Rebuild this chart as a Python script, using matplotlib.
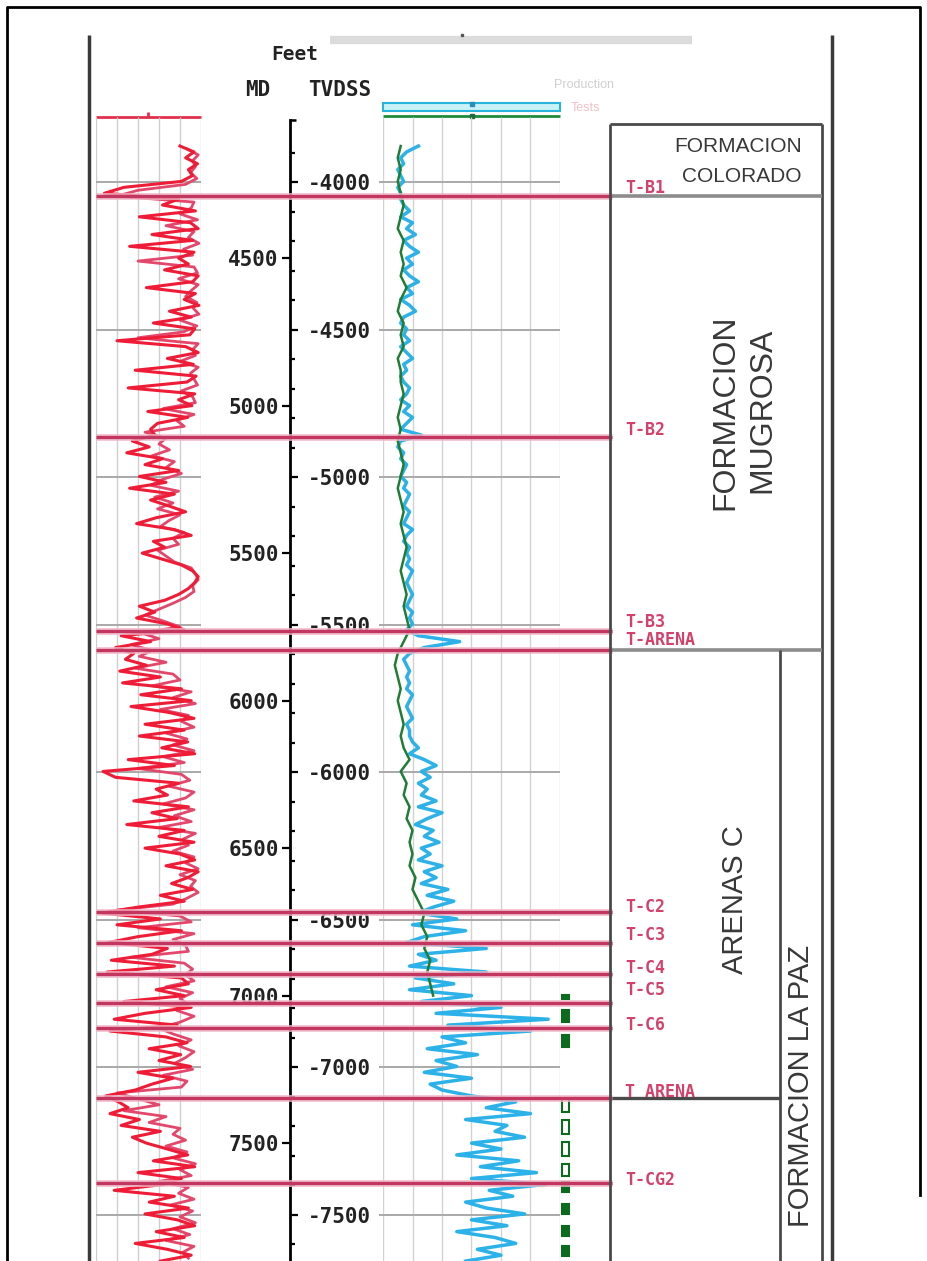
import numpy as np
import matplotlib
matplotlib.use("Agg")
import matplotlib.pyplot as plt

# picture size in pixels and depth scale of the log
W, H = 928, 1261
PX_PER_FT = 0.295          # vertical scale of the print
MD_TOP = 3625.0            # MD at the top edge of the picture
MD_BOT = MD_TOP + H / PX_PER_FT
TVD_OFFSET = 243.0         # MD = TVD_OFFSET - TVDSS


def md_at(py):
    return MD_TOP + py / PX_PER_FT


# ---------------------------------------------------------------- data
GR_DEPTH = np.arange(4120, 7901, 20)        # 20 ft samples
GR = [
    120, 140, 128, 145, 132, 138, 122, 40, 12, 118,
    95, 142, 62, 135, 146, 80, 138, 48, 140, 118,
    132, 98, 146, 138, 72, 142, 126, 147, 105, 136,
    82, 141, 134, 30, 128, 146, 102, 139, 56, 143,
    130, 46, 141, 118, 137, 74, 131, 88, 78, 84,
    52, 76, 44, 95, 70, 118, 62, 100, 48, 112,
    78, 104, 128, 86, 58, 112, 136, 82, 98, 66,
    94, 122, 138, 146, 141, 132, 118, 98, 62, 84,
    58, 102, 126, 36, 78, 28, 54, 42, 72, 34,
    92, 38, 122, 64, 136, 50, 104, 140, 70, 126,
    62, 131, 94, 141, 46, 112, 10, 28, 118, 86,
    102, 54, 132, 80, 116, 44, 126, 90, 140, 70,
    120, 141, 100, 146, 131, 108, 138, 92, 126, 60,
    8, 92, 30, 122, 60, 18, 102, 80, 22, 112,
    16, 122, 132, 86, 126, 40, 136, 70, 26, 116,
    20, 100, 130, 76, 121, 90, 135, 60, 110, 80,
    56, 14, 32, 46, 20, 62, 36, 92, 52, 72,
    102, 131, 82, 141, 60, 122, 96, 26, 112, 76,
    132, 70, 116, 141, 86, 126, 56, 102, 136, 92,
]

# second (pink) gamma curve, sampled between the first one
GR_B_DEPTH = np.arange(4130, 7891, 20)
GR_B = [
    130, 146, 138, 142, 135, 144, 128, 60, 30, 140,
    136, 120, 145, 100, 140, 132, 147, 125, 138, 60,
    140, 145, 118, 146, 136, 128, 144, 139, 147, 120,
    144, 125, 60, 146, 138, 142, 120, 146, 135, 140,
    145, 122, 138, 142, 96, 140, 115, 126, 70, 100,
    90, 105, 80, 112, 100, 122, 95, 78, 118, 84,
    110, 88, 120, 104, 92, 126, 110, 118, 88, 100,
    112, 136, 142, 146, 138, 140, 128, 110, 90, 70,
    96, 120, 64, 90, 50, 80, 62, 100, 56, 110,
    120, 80, 136, 110, 142, 92, 132, 122, 140, 100,
    130, 110, 140, 96, 126, 60, 122, 134, 104, 140,
    128, 96, 140, 112, 136, 90, 142, 124, 132, 110,
    140, 128, 146, 120, 142, 135, 146, 130, 110, 30,
    120, 136, 60, 140, 110, 128, 132, 50, 126, 138,
    128, 140, 100, 138, 120, 132, 115, 140, 120, 90,
    110, 136, 118, 140, 128, 112, 138, 96, 130, 122,
    30, 60, 90, 40, 100, 76, 120, 110, 128, 100,
    130, 110, 142, 120, 136, 90, 132, 118, 140, 106,
    138, 120, 142, 110, 134, 100, 140, 124, 132,
]

RES = [
    12, 8, 6, 7, 5, 6, 7, 5, 6, 6,
    7, 9, 6, 10, 8, 11, 7, 9, 12, 8,
    10, 7, 9, 12, 8, 10, 6, 9, 11, 7,
    6, 8, 7, 9, 6, 8, 10, 7, 8, 6,
    7, 9, 8, 6, 9, 7, 10, 8, 6, 13,
    6, 5, 7, 6, 8, 7, 6, 8, 7, 9,
    8, 7, 9, 8, 7, 10, 8, 7, 9, 8,
    9, 8, 10, 9, 8, 9, 10, 9, 8, 10,
    9, 10, 8, 12, 26, 14, 9, 7, 8, 9,
    8, 9, 8, 10, 9, 8, 9, 10, 8, 9,
    9, 10, 12, 9, 14, 18, 13, 16, 12, 15,
    13, 18, 12, 20, 15, 11, 17, 14, 19, 13,
    16, 12, 20, 14, 18, 13, 22, 15, 24, 17,
    12, 25, 10, 28, 14, 8, 35, 12, 18, 9,
    35, 11, 24, 9, 30, 13, 40, 18, 56, 22,
    50, 20, 28, 15, 32, 18, 25, 14, 30, 16,
    20, 30, 45, 35, 50, 28, 42, 38, 48, 30,
    40, 25, 46, 33, 52, 30, 55, 36, 44, 28,
    35, 48, 30, 42, 25, 38, 45, 32, 40, 28,
]

RES2_DEPTH = np.arange(4120, 7001, 40)
RES2 = [
    6, 5, 6, 5, 6, 7, 6, 5, 7, 6,
    7, 6, 8, 6, 5, 7, 6, 7, 5, 6,
    6, 7, 6, 5, 6, 5, 6, 7, 6, 5,
    6, 7, 6, 7, 8, 7, 6, 7, 8, 7,
    8, 9, 7, 5, 4, 5, 6, 5, 6, 7,
    6, 7, 9, 6, 8, 7, 9, 8, 10, 9,
    10, 9, 11, 10, 12, 14, 13, 15, 14, 16,
    15, 16, 17,
]

MD_TICKS = [4500, 5000, 5500, 6000, 6500, 7000, 7500]
TVD_TICKS = [-4000, -4500, -5000, -5500, -6000, -6500, -7000, -7500]

TOP_NAMES = ["T-B1", "T-B2", "T-B3", "T-ARENA", "T-C2", "T-C3", "T-C4",
             "T-C5", "T-C6", "T ARENA", "T-CG2"]
TOP_MD = [4289, 5106, 5764, 5828, 6717, 6822, 6927, 7025, 7110, 7347, 7635]
LABEL_MD = [4262, 5083, 5733, 5794, 6700, 6795, 6906, 6981, 7100, 7327, 7625]

# production tests: top, base, filled?
PT_TOP = [6998, 7049, 7133, 7347, 7421, 7496, 7571, 7632, 7706, 7781, 7849]
PT_BASE = [7011, 7089, 7174, 7395, 7469, 7544, 7611, 7666, 7740, 7815, 7883]
PT_FILLED = [True, True, True, False, False, False, False, True, True, True, True]

BOX_TOP_MD = md_at(124)

# ---------------------------------------------------------------- figure
fig = plt.figure(figsize=(W / 100, H / 100), dpi=100)
fig.patch.set_facecolor("white")

lay = fig.add_axes([0, 0, 1, 1])
lay.set_xlim(0, W)
lay.set_ylim(H, 0)
lay.axis("off")

# frame and the two long verticals
lay.plot([7, 7, 920, 920], [H, 7, 7, 1195], color="black", lw=2)
lay.vlines([89, 832], 35, H, color="#3a3a3a", lw=2.5)
lay.hlines(40, 330, 692, color="#dcdcdc", lw=6)
lay.plot([462], [35], marker="s", ms=2, color="#555555")

mono = dict(family="DejaVu Sans Mono", weight="bold", color="#222222")
lay.text(295, 55, "Feet", ha="center", va="center", size=14, **mono)
lay.text(258, 90, "MD", ha="center", va="center", size=15, **mono)
lay.text(340, 90, "TVDSS", ha="center", va="center", size=15, **mono)
lay.text(584, 85, "Production", ha="center", va="center", size=9,
         family="Liberation Sans", color="#cfcfcf")
lay.text(585, 108, "Tests", ha="center", va="center", size=9,
         family="Liberation Sans", color="#f2c0c8")

# track headers
lay.hlines(117, 96, 201, color="#e0304a", lw=2)
lay.vlines(148, 112, 117, color="#e0304a", lw=2)
lay.add_patch(plt.Rectangle((383, 103), 177, 8, facecolor="#c9f1f8",
                            edgecolor="#2ab4dc", lw=1.5))
lay.hlines(116, 383, 560, color="#1f8a3a", lw=2)
lay.plot([472], [104], marker="s", ms=3, color="#2a8fb8")
lay.plot([472], [116], marker="s", ms=3, color="#1f6a3a")


def track(x0, x1, xmax):
    ax = fig.add_axes([x0 / W, 0, (x1 - x0) / W, 1])
    ax.set_xlim(0, xmax)
    ax.set_ylim(MD_BOT, MD_TOP)
    ax.axis("off")
    return ax


tvd_md = [TVD_OFFSET - t for t in TVD_TICKS]

# track 1 : gamma ray
ax1 = track(96, 201, 150)
ax1.vlines(np.linspace(0, 150, 6), md_at(117), MD_BOT, color="#cfcfcf", lw=1)
ax1.hlines(tvd_md, 0, 150, color="#a9a9a9", lw=1.4)
ax1.plot(GR_B, GR_B_DEPTH, color="#e3476c", lw=2.0)
ax1.plot(GR, GR_DEPTH, color="#ee1c36", lw=2.2)

# track 2 : resistivity curves
ax2 = track(383, 560, 60)
ax2.vlines(np.linspace(0, 60, 7), md_at(117), MD_BOT, color="#d2d2d2", lw=1)
ax2.hlines(tvd_md, -1.5, 60, color="#a9a9a9", lw=1.4, clip_on=False)
ax2.plot(RES2, RES2_DEPTH, color="#1f7d34", lw=1.8, zorder=3)
ax2.plot(RES, GR_DEPTH, color="#2cb2e8", lw=2.5, zorder=2)
for top, base, filled in zip(PT_TOP, PT_BASE, PT_FILLED):
    ax2.barh((top + base) / 2, 2.6, left=60.6, height=base - top,
             facecolor="#0d6b1e" if filled else "white",
             edgecolor="#0d6b1e", lw=1.5, clip_on=False)

# depth column
axd = fig.add_axes([290 / W, 0, 0.0001, 1])
axd.set_ylim(MD_BOT, MD_TOP)
axd.set_xticks([])
axd.patch.set_visible(False)
for s in ["top", "right", "bottom"]:
    axd.spines[s].set_visible(False)
axd.spines["left"].set_linewidth(2)
axd.spines["left"].set_bounds(MD_BOT, md_at(120))
axd.set_yticks(MD_TICKS)
axd.set_yticklabels([str(v) for v in MD_TICKS], family="DejaVu Sans Mono",
                    weight="bold", size=15, color="#222222")
axd.tick_params(axis="y", direction="out", length=6, width=1.6, pad=2)

axt = axd.twinx()
axt.set_ylim(TVD_OFFSET - MD_BOT, TVD_OFFSET - MD_TOP)
for s in axt.spines.values():
    s.set_visible(False)
axt.set_yticks(TVD_TICKS)
axt.set_yticklabels([str(v) for v in TVD_TICKS], family="DejaVu Sans Mono",
                    weight="bold", size=15, color="#222222")
axt.set_yticks(np.arange(-7600, -3800, 100), minor=True)
axt.tick_params(axis="y", which="major", direction="out", length=6,
                width=1.6, pad=7)
axt.tick_params(axis="y", which="minor", direction="out", length=3.5,
                width=1.6)
lay.hlines(120, 290, 296, color="black", lw=1.8)

# overlay: formation tops and formation column
ov = fig.add_axes([0, 0, 1, 1])
ov.set_xlim(0, W)
ov.set_ylim(MD_BOT, MD_TOP)
ov.axis("off")

ov.hlines(TOP_MD, 96, 612, color="#f0b8c8", lw=5, alpha=0.8)
ov.hlines(TOP_MD, 96, 612, color="#c23660", lw=2.4)
for name, y in zip(TOP_NAMES, LABEL_MD):
    ov.text(625, y, name, ha="left", va="center", size=12,
            family="DejaVu Sans Mono", weight="bold", color="#d4426c")

box_c = "#4a4a4a"
ov.vlines([610, 822], BOX_TOP_MD, MD_BOT, color=box_c, lw=2)
ov.hlines(BOX_TOP_MD, 610, 822, color=box_c, lw=2)
ov.hlines([TOP_MD[0], TOP_MD[3]], 612, 822, color="#8c8c8c", lw=2.6)
ov.hlines(TOP_MD[9], 612, 780, color=box_c, lw=2.4)
ov.vlines(780, TOP_MD[3], MD_BOT, color=box_c, lw=2)

txt = dict(family="Liberation Sans", color="#383838")
ov.text(802, md_at(147), "FORMACION", ha="right", va="center", size=15, **txt)
ov.text(802, md_at(177), "COLORADO", ha="right", va="center", size=15, **txt)
ov.text(725, md_at(412), "FORMACION", ha="center", va="center", size=23,
        rotation=90, **txt)
ov.text(762, md_at(410), "MUGROSA", ha="center", va="center", size=23,
        rotation=90, **txt)
ov.text(735, md_at(900), "ARENAS C", ha="center", va="center", size=21,
        rotation=90, **txt)
ov.text(801, md_at(945), "FORMACION LA PAZ", ha="center", va="top", size=21,
        rotation=90, **txt)

fig.savefig("out.png", dpi=100)
